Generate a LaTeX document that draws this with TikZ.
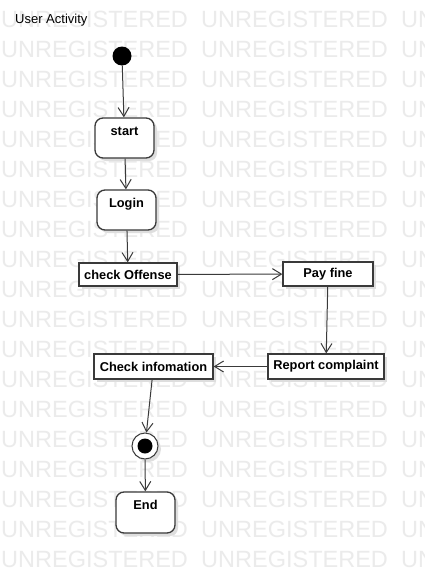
\documentclass[tikz,border=0pt]{standalone}
\usepackage{fontspec}
\setmainfont{Liberation Sans}
\usetikzlibrary{arrows.meta,shadows}
\definecolor{wmgray}{HTML}{EBEBEB}
\definecolor{linegray}{HTML}{3A3A3A}
\tikzset{
  wmtext/.style={anchor=base west,inner sep=0pt,text=wmgray,font=\fontsize{23.5}{24}\selectfont},
  shadowed/.style={general shadow={fill=black!13,shadow xshift=3pt,shadow yshift=-3pt}},
  rbox/.style={draw=linegray,line width=1.3pt,fill=white,rounded corners=8pt,inner sep=0pt,shadowed},
  sbox/.style={draw=linegray,line width=1.3pt,fill=white,inner sep=0pt,shadowed,
    font=\fontsize{12.8}{14}\selectfont\bfseries},
  lbl/.style={inner sep=0pt,font=\fontsize{12.8}{14}\selectfont\bfseries},
  flow/.style={draw=linegray,line width=1pt,-{Straight Barb[length=9pt,width=11pt,line width=1pt]}},
}
\begin{document}
\begin{tikzpicture}[x=1pt,y=-1pt]
\useasboundingbox[fill=white] (0,0) rectangle (424,573);
% watermark
\foreach \k in {0,...,18}{
  \foreach \j in {0,1,2}{
    \node[wmtext] (wm\k-\j) at (200*\j+1,27+30*\k) {UNREGISTERED};
  }
}
\node[anchor=west,inner sep=0pt,font=\fontsize{13}{14}\selectfont] (title) at (15,20) {User Activity};
% initial
\node[circle,fill=black,minimum size=19pt,inner sep=0pt] (init) at (122,56) {};
% rounded states
\node[rbox,minimum width=59pt,minimum height=40pt] (start) at (124.5,138) {};
\node[lbl] (startl) at (124.5,131) {start};
\node[rbox,minimum width=59pt,minimum height=40pt] (login) at (126.5,210) {};
\node[lbl] (loginl) at (126.5,204) {Login};
% rectangular states
\node[sbox,minimum width=98pt,minimum height=23pt] (offense) at (128,274.5) {check Offense};
\node[sbox,minimum width=90pt,minimum height=24pt] (pay) at (328,274) {Pay fine};
\node[sbox,minimum width=116pt,minimum height=25pt] (report) at (326,366.5) {Report complaint};
\node[sbox,minimum width=119pt,minimum height=25pt] (checkinfo) at (153.5,366.5) {Check infomation};
% final
\node[circle,draw=linegray,line width=1pt,fill=white,minimum size=26pt,inner sep=0pt,shadowed] (final) at (145,446) {};
\node[circle,fill=black,minimum size=15pt,inner sep=0pt] (finaldot) at (145,446) {};
\node[rbox,minimum width=59pt,minimum height=41pt] (end) at (145.5,512.5) {};
\node[lbl] (endl) at (145.5,505) {End};
% flows
\draw[flow] (init) -- (start);
\draw[flow] (start) -- (login);
\draw[flow] (login) -- (offense);
\draw[flow] (offense) -- (pay);
\draw[flow] (pay) -- (report);
\draw[flow] (report) -- (checkinfo);
\draw[flow] (checkinfo) -- (final);
\draw[flow] (final) -- (end);
\end{tikzpicture}
\end{document}
